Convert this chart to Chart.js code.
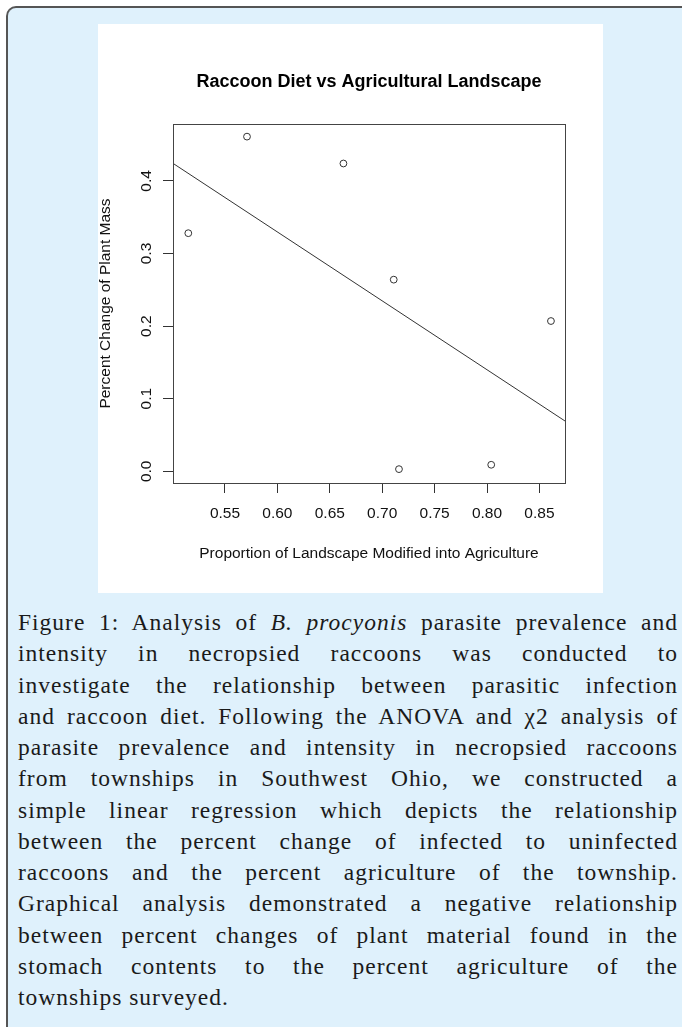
<!DOCTYPE html>
<html>
<head>
<meta charset="utf-8">
<script src="https://cdn.jsdelivr.net/npm/chart.js@4.4.1/dist/chart.umd.min.js"></script>
<style>
    html, body { margin: 0; padding: 0; background: #ffffff; }
    body { width: 682px; height: 1027px; position: relative; overflow: hidden; }
    .panel {
        position: absolute; left: 6px; top: 6px; width: 700px; height: 1040px;
        background: #dff1fc; border-left: 2px solid #555; border-top: 2px solid #555;
        border-top-left-radius: 10px; box-sizing: border-box;
    }
    .figure { position: absolute; left: 98px; top: 24px; width: 505px; height: 569px; background: #fff; }
    .caption {
        position: absolute; left: 18px; top: 607px; width: 660px;
        font-family: "Liberation Serif", "Times New Roman", serif; font-size: 23.5px;
        letter-spacing: 1px; line-height: 31.25px; color: #1a1a1a;
    }
    .caption div { text-align: justify; text-align-last: justify; white-space: nowrap; }
    .caption div.last { text-align-last: left; }
</style>
</head>
<body>
<div class="panel"></div>
<div class="figure"><canvas id="dietChart" width="505" height="569"></canvas></div>
<div class="caption">
    <div>Figure 1: Analysis of <i>B. procyonis</i> parasite prevalence and</div>
    <div>intensity in necropsied raccoons was conducted to</div>
    <div>investigate the relationship between parasitic infection</div>
    <div>and raccoon diet. Following the ANOVA and χ2 analysis of</div>
    <div>parasite prevalence and intensity in necropsied raccoons</div>
    <div>from townships in Southwest Ohio, we constructed a</div>
    <div>simple linear regression which depicts the relationship</div>
    <div>between the percent change of infected to uninfected</div>
    <div>raccoons and the percent agriculture of the township.</div>
    <div>Graphical analysis demonstrated a negative relationship</div>
    <div>between percent changes of plant material found in the</div>
    <div>stomach contents to the percent agriculture of the</div>
    <div class="last">townships surveyed.</div>
</div>
<script>
// values
const landscapeProp = [0.515, 0.571, 0.663, 0.711, 0.861, 0.716, 0.804];
const plantChange = [0.328, 0.461, 0.424, 0.264, 0.207, 0.003, 0.009];

// fitted line, read at the left and right edges of the plot
const fitX = [0.5004, 0.8744];
const fitY = [0.4242, 0.0693];

const xRange = [0.5004, 0.8744];
const yRange = [-0.0161, 0.4784];
const xTicks = [0.55, 0.60, 0.65, 0.70, 0.75, 0.80, 0.85];
const xTickLabels = ['0.55', '0.60', '0.65', '0.70', '0.75', '0.80', '0.85'];
const yTicks = [0.0, 0.1, 0.2, 0.3, 0.4];
const yTickLabels = ['0.0', '0.1', '0.2', '0.3', '0.4'];

const chartTitle = 'Raccoon Diet vs Agricultural Landscape';
const xTitle = 'Proportion of Landscape Modified into Agriculture';
const yTitle = 'Percent Change of Plant Mass';

const FONT = '"Liberation Sans", Arial, Helvetica, sans-serif';

// R-style box, title and labels
const rStyle = {
    id: 'rStyle',
    afterDraw(chart) {
        const ctx = chart.ctx;
        const area = chart.chartArea;
        const xs = chart.scales.x;
        const ys = chart.scales.y;
        ctx.save();
        ctx.strokeStyle = '#444';
        ctx.lineWidth = 1;
        ctx.strokeRect(Math.round(area.left) + 0.5, Math.round(area.top) + 0.5,
            Math.round(area.right - area.left), Math.round(area.bottom - area.top));

        ctx.fillStyle = '#000';
        ctx.textAlign = 'center';
        ctx.textBaseline = 'middle';
        ctx.font = 'bold 18px ' + FONT;
        ctx.fillText(chartTitle, (area.left + area.right) / 2, area.top - 42);

        ctx.font = '15.5px ' + FONT;
        ctx.fillStyle = '#111';
        xTicks.forEach((v, i) => {
            ctx.fillText(xTickLabels[i], xs.getPixelForValue(v), area.bottom + 31);
        });
        ctx.fillText(xTitle, (area.left + area.right) / 2, area.bottom + 71);

        yTicks.forEach((v, i) => {
            ctx.save();
            ctx.translate(area.left - 26, ys.getPixelForValue(v));
            ctx.rotate(-Math.PI / 2);
            ctx.fillText(yTickLabels[i], 0, 0);
            ctx.restore();
        });
        ctx.translate(area.left - 67, (area.top + area.bottom) / 2);
        ctx.rotate(-Math.PI / 2);
        ctx.fillText(yTitle, 0, 0);
        ctx.restore();
    }
};

const ctx = document.getElementById('dietChart').getContext('2d');

new Chart(ctx, {
    type: 'scatter',
    data: {
        datasets: [
            {
                label: 'raccoons',
                data: landscapeProp.map((x, i) => ({ x: x, y: plantChange[i] })),
                pointStyle: 'circle',
                pointRadius: 3.4,
                pointHoverRadius: 3.4,
                borderColor: '#333',
                backgroundColor: 'rgba(0,0,0,0)',
                borderWidth: 1
            },
            {
                type: 'line',
                label: 'fit',
                data: fitX.map((x, i) => ({ x: x, y: fitY[i] })),
                borderColor: '#333',
                borderWidth: 1,
                pointRadius: 0,
                fill: false
            }
        ]
    },
    options: {
        responsive: false,
        animation: false,
        devicePixelRatio: 1,
        layout: { padding: { top: 100, right: 38, left: 0, bottom: 0 } },
        plugins: {
            legend: { display: false },
            title: { display: false },
            tooltip: { enabled: false }
        },
        scales: {
            x: {
                type: 'linear',
                position: 'bottom',
                min: xRange[0],
                max: xRange[1],
                afterBuildTicks: s => { s.ticks = xTicks.map(v => ({ value: v })); },
                afterFit: s => { s.height = 110; },
                ticks: { display: false },
                grid: { drawOnChartArea: false, drawTicks: true, tickLength: 10, color: '#333' },
                border: { display: true, color: '#444' }
            },
            y: {
                type: 'linear',
                position: 'left',
                min: yRange[0],
                max: yRange[1],
                afterBuildTicks: s => { s.ticks = yTicks.map(v => ({ value: v })); },
                afterFit: s => { s.width = 75; },
                ticks: { display: false },
                grid: { drawOnChartArea: false, drawTicks: true, tickLength: 10, color: '#333' },
                border: { display: true, color: '#444' }
            }
        }
    },
    plugins: [rStyle]
});
</script>
</body>
</html>
